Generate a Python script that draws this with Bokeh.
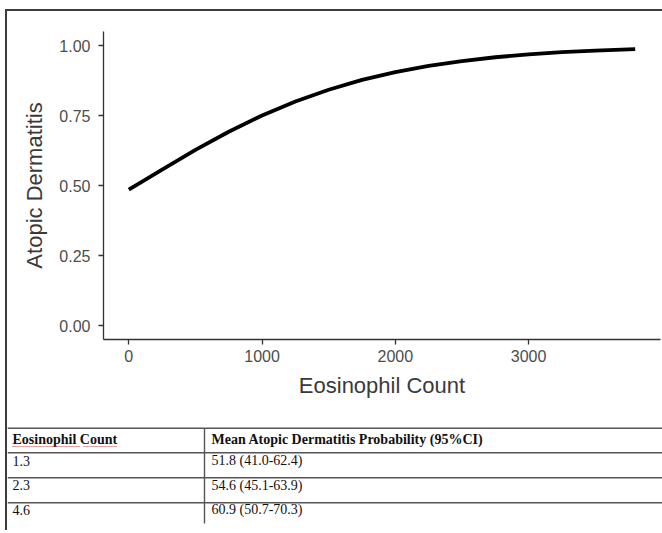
from bokeh.plotting import figure
from bokeh.layouts import column
from bokeh.models import Range1d, FixedTicker, PrintfTickFormatter
from bokeh.core.properties import value
from bokeh.embed import file_html
from bokeh.resources import INLINE

# ---- data ----
eos_count = [0, 250, 500, 750, 1000, 1250, 1500, 1750, 2000, 2250, 2500, 2750, 3000, 3250, 3500, 3800]
ad_prob = [0.485, 0.557, 0.627, 0.692, 0.750, 0.800, 0.842, 0.877, 0.905, 0.927, 0.944, 0.958, 0.968, 0.976, 0.982, 0.987]

y_ticks = [0.0, 0.25, 0.5, 0.75, 1.0]
x_ticks = [0, 1000, 2000, 3000]

table_header = ["Eosinophil Count", "Mean Atopic Dermatitis Probability (95%CI)"]
table_counts = ["1.3", "2.3", "4.6"]
table_probs = ["51.8 (41.0-62.4)", "54.6 (45.1-63.9)", "60.9 (50.7-70.3)"]

# ---- chart ----
FONT = "Liberation Sans"
W = 655
H1 = 407
p = figure(width=W, height=H1,
           x_range=Range1d(-190, 3990), y_range=Range1d(-0.05, 1.05),
           min_border_left=96, min_border_right=2, min_border_top=20, min_border_bottom=79,
           output_backend="svg", toolbar_location=None, frame_align=False)
p.xgrid.visible = False
p.ygrid.visible = False
p.outline_line_color = None
p.background_fill_color = "white"
p.border_fill_color = "white"

p.line(eos_count, ad_prob, line_width=3.8, line_color="black", line_cap="butt")

for ax in (p.xaxis[0], p.yaxis[0]):
    ax.axis_line_color = "#333333"
    ax.axis_line_width = 1.3
    ax.major_tick_line_color = "#333333"
    ax.major_tick_line_width = 1.3
    ax.major_tick_out = 5
    ax.major_tick_in = 0
    ax.minor_tick_out = 0
    ax.minor_tick_in = 0
    ax.major_label_text_font = FONT
    ax.major_label_text_font_size = "16px"
    ax.major_label_text_color = "#4d4d4d"
    ax.axis_label_text_font = FONT
    ax.axis_label_text_font_size = "22px"
    ax.axis_label_text_font_style = "normal"
    ax.axis_label_text_color = "#3a3a3a"

p.yaxis.ticker = FixedTicker(ticks=y_ticks)
p.yaxis.formatter = PrintfTickFormatter(format="%.2f")
p.yaxis.major_label_standoff = 8
p.yaxis.axis_label = "Atopic Dermatitis"
p.yaxis.axis_label_standoff = 9

p.xaxis.ticker = FixedTicker(ticks=x_ticks)
p.xaxis.formatter = PrintfTickFormatter(format="%d")
p.xaxis.major_label_standoff = 5
p.xaxis.axis_label = "Eosinophil Count"
p.xaxis.axis_label_standoff = 8

# ---- table ----
TH = 112
t = figure(width=W, height=TH, x_range=Range1d(0, W), y_range=Range1d(TH, 0),
           min_border=0, output_backend="svg", toolbar_location=None, frame_align=False)
t.axis.visible = False
t.xgrid.visible = False
t.ygrid.visible = False
t.outline_line_color = None
t.border_fill_color = "white"

row_lines = [9.7, 34.3, 59.3, 84.3]
line_col = "#555555"
for yy in row_lines:
    t.line([0, W], [yy, yy], line_color=line_col, line_width=1.6)
t.line([197, 197], [row_lines[0], 105], line_color=line_col, line_width=1.4)

col_x = [5, 204]
text_y = [20.5, 42, 66.5, 91]
SERIF = "Liberation Serif"
t.text(x=col_x, y=[text_y[0]] * 2, text=table_header,
       text_font=value(SERIF), text_font_size="14px", text_font_style="bold",
       text_color="#111111", text_baseline="middle", text_align="left")
t.text(x=[col_x[0]] * 3, y=text_y[1:], text=table_counts,
       text_font=value(SERIF), text_font_size="14px",
       text_color="#111111", text_baseline="middle", text_align="left")
t.text(x=[col_x[1]] * 3, y=text_y[1:], text=table_probs,
       text_font=value(SERIF), text_font_size="14px",
       text_color="#111111", text_baseline="middle", text_align="left")
# spell-check squiggle under header words
t.line([5, 72], [28, 28], line_color="#d04040", line_width=1, line_dash="1 1")
t.line([76, 110], [28, 28], line_color="#d04040", line_width=1, line_dash="1 1")

layout = column(p, t, spacing=0,
                styles={"margin-left": "5px", "margin-top": "9px",
                        "border-left": "2px solid #3c3c3c", "border-top": "2px solid #3c3c3c"})

open("out.html", "w").write(file_html(layout, INLINE))
